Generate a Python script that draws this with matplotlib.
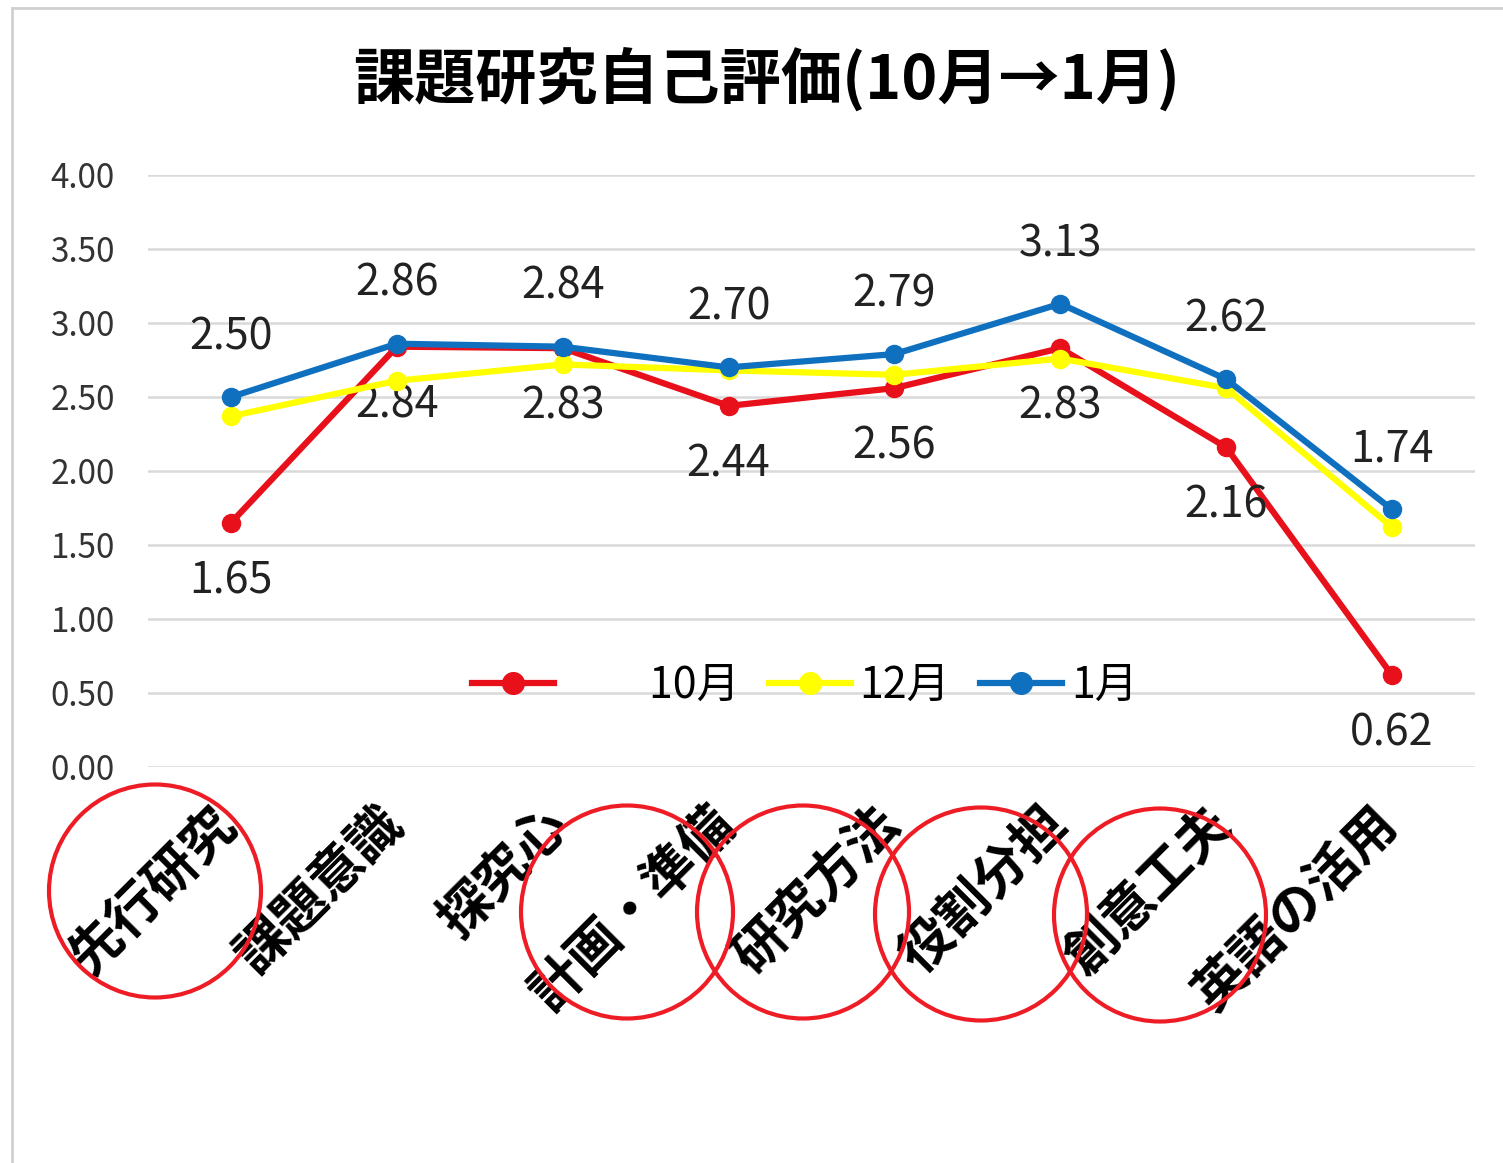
import matplotlib.pyplot as plt
from matplotlib.patches import Ellipse
from matplotlib.lines import Line2D

plt.rcParams['font.family'] = ['Noto Sans CJK JP', 'DejaVu Sans']

categories = ['先行研究', '課題意識', '探究心', '計画・準備', '研究方法', '役割分担', '創意工夫', '英語の活用']
oct_vals = [1.65, 2.84, 2.83, 2.44, 2.56, 2.83, 2.16, 0.62]
dec_vals = [2.37, 2.61, 2.72, 2.68, 2.65, 2.76, 2.56, 1.62]
jan_vals = [2.50, 2.86, 2.84, 2.70, 2.79, 3.13, 2.62, 1.74]
yticks = [0.0, 0.5, 1.0, 1.5, 2.0, 2.5, 3.0, 3.5, 4.0]

W, H = 1503, 1163
fig = plt.figure(figsize=(W / 100, H / 100), dpi=100)
ax = fig.add_axes([148 / W, 1 - 767 / H, (1475 - 148) / W, (767 - 175) / H])

x = list(range(len(categories)))
red, yellow, blue = '#E8101A', '#FFFF00', '#1070C0'
l1, = ax.plot(x, oct_vals, color=red, lw=4.5, marker='o', ms=13, label='10月', zorder=3)
l2, = ax.plot(x, dec_vals, color=yellow, lw=4.5, marker='o', ms=13, label='12月', zorder=4)
l3, = ax.plot(x, jan_vals, color=blue, lw=4.5, marker='o', ms=13, label='1月', zorder=5)

for i in x:
    ax.annotate(f'{jan_vals[i]:.2f}', (i, jan_vals[i]), xytext=(0, 43), textcoords='offset points',
                ha='center', va='center', fontsize=31, color='#222222')
    ax.annotate(f'{oct_vals[i]:.2f}', (i, oct_vals[i]), xytext=(0, -42), textcoords='offset points',
                ha='center', va='center', fontsize=31, color='#222222')

ax.set_xlim(-0.5, len(categories) - 0.5)
ax.set_ylim(0, 4)
ax.set_yticks(yticks)
ax.set_yticklabels([f'{v:.2f}' for v in yticks], fontsize=24, color='#333333')
ax.set_xticks(x)
ax.set_xticklabels([])
# category labels, rotated, placed a little left of each tick
for i, cat in zip(x, categories):
    ax.annotate(cat, (i, 0), xycoords=('data', 'axes fraction'), xytext=(-15, -22),
                textcoords='offset points', rotation=45, ha='right', va='top',
                rotation_mode='anchor', fontsize=38, fontweight='bold', annotation_clip=False)
ax.tick_params(axis='both', length=0)
ax.tick_params(axis='y', pad=24)
ax.grid(axis='y', color='#d9d9d9', lw=1.8)
ax.set_axisbelow(True)
for s in ax.spines.values():
    s.set_visible(False)

ax.legend([l1, l2, l3], ['\u3000\u300010月', '12月', '1月'], loc='center',
          bbox_to_anchor=(0.495, 0.137), ncol=3, frameon=False, markerscale=1.2,
          fontsize=31, handlelength=1.9, handletextpad=0.2, columnspacing=0.7)

fig.text(767 / W, 1 - 80 / H, '課題研究自己評価(10月→1月)', ha='center', va='center',
         fontsize=44, fontweight='bold')

# red circles drawn over some labels
circles = [(155, 891), (627, 912), (803, 912), (981, 914), (1160, 915)]
for cx, cy in circles:
    fig.patches.append(Ellipse((cx / W, 1 - cy / H), 212 / W, 213 / H, transform=fig.transFigure,
                               fill=False, edgecolor='#EE1C25', lw=3))

# frame lines
fig.add_artist(Line2D([12 / W, 1], [1 - 8 / H, 1 - 8 / H], color='#d0d0d0', lw=2, transform=fig.transFigure))
fig.add_artist(Line2D([12 / W, 12 / W], [0, 1 - 8 / H], color='#d0d0d0', lw=2, transform=fig.transFigure))

fig.savefig('out.png', dpi=100)
